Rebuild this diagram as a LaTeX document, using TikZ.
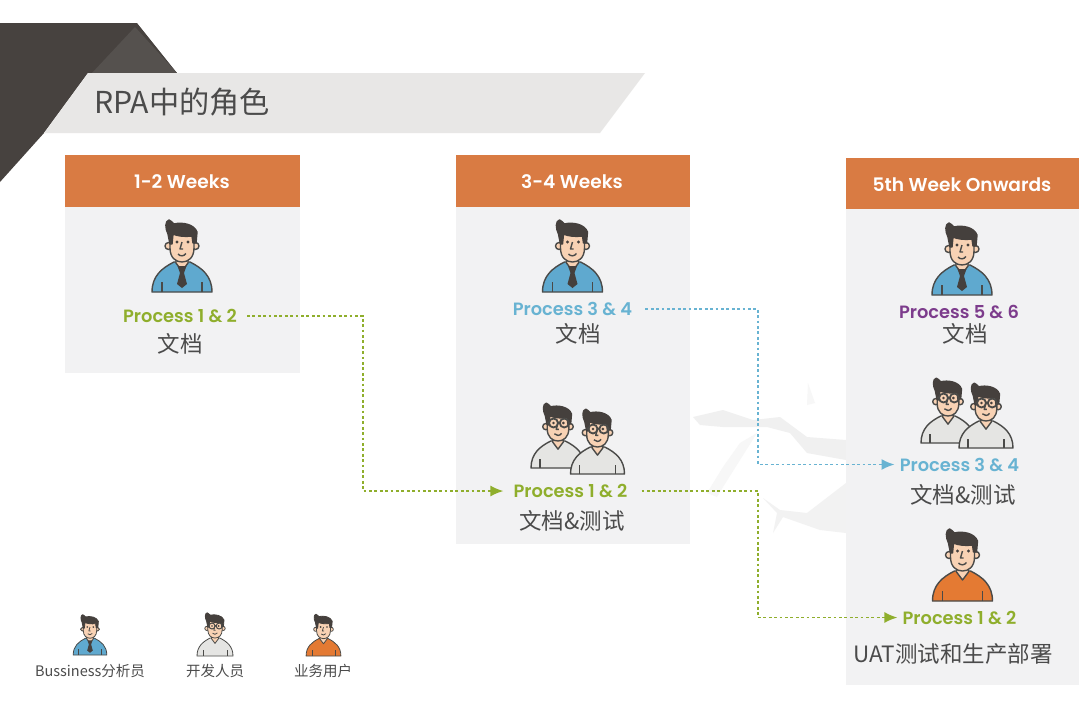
\documentclass[tikz,border=0pt]{standalone}
\usepackage{fontspec}
\setmainfont{Poppins}[BoldFont={Poppins SemiBold}]
\newfontfamily\cjk{Noto Sans CJK SC}
\usetikzlibrary{arrows.meta}
\definecolor{panelbg}{HTML}{F2F2F3}
\definecolor{headbg}{HTML}{D97B43}
\definecolor{titlebg}{HTML}{E8E7E6}
\definecolor{darkA}{HTML}{47423F}
\definecolor{darkB}{HTML}{55514E}
\definecolor{inkc}{HTML}{4A4A48}
\definecolor{skinc}{HTML}{F8D2B4}
\definecolor{hairc}{HTML}{45403D}
\definecolor{shirtblue}{HTML}{5FA9CF}
\definecolor{shirtgrey}{HTML}{E5E5E3}
\definecolor{shirtorange}{HTML}{E47A33}
\definecolor{greenc}{HTML}{8FAE2C}
\definecolor{bluec}{HTML}{68B3D2}
\definecolor{purplec}{HTML}{7D3C8C}
\definecolor{textc}{HTML}{4B4B4B}
\tikzset{
  x=1pt,y=-1pt,
  panelbox/.style={fill=panelbg,draw=none},
  headbox/.style={fill=headbg,draw=none},
  headtext/.style={text=white,font=\fontsize{18.6}{19}\selectfont\bfseries,inner sep=0pt},
  proc/.style={font=\fontsize{17.8}{19}\selectfont\bfseries,inner xsep=10pt,inner ysep=0pt},
  cn/.style={text=textc,font=\cjk\fontsize{22.5}{23}\selectfont,inner sep=0pt},
  legendtext/.style={text=textc,font=\cjk\fontsize{14.5}{15}\selectfont,inner sep=0pt},
  flow/.style={line width=1.8pt,dash pattern=on 2.8pt off 2.6pt,-{Latex[length=13pt,width=11pt,sep=0pt]}},
  pics/person/.style n args={4}{code={
    \tikzset{ol/.style={draw=inkc,line width=#4,line join=round}}
    \path[ol,fill=#1] (-30,0) .. controls (-30,-16) and (-20,-24) .. (-8,-30) -- (8,-30) .. controls (20,-24) and (30,-16) .. (30,0) -- cycle;
    \path[ol] (-20,0) -- (-20,-10) (20,0) -- (20,-10);
    \path[ol,fill=skinc] (-13.5,-46) circle[radius=3.5] (13.5,-46) circle[radius=3.5];
    \path[ol,fill=skinc] (-6,-38) -- (-6,-29) -- (0,-21) -- (6,-29) -- (6,-38) -- cycle;
    \path[ol,fill=skinc] (-12,-60) -- (-12,-44) .. controls (-12,-34) and (-6,-30) .. (0,-30) .. controls (6,-30) and (12,-34) .. (12,-44) -- (12,-60) -- cycle;
    \path[fill=hairc,draw=hairc,line width=#4,line join=round] (-12,-48) -- (-14,-58) .. controls (-17,-64) and (-17,-71) .. (-13,-72) .. controls (-11,-72) and (-10,-69) .. (-8,-68) .. controls (0,-70) and (12,-68) .. (15,-60) -- (14,-49) -- (11,-49) -- (10,-56) .. controls (3,-55) and (-5,-56) .. (-9,-58) -- (-10,-48) -- cycle;
    \fill[hairc] (-5,-50) circle[radius=1.6] (6,-50) circle[radius=1.6];
    \path[ol] (0,-50) -- (-2,-43) -- (1,-43);
    \path[ol] (-4,-38) .. controls (-2,-35.5) and (2,-35.5) .. (4,-38.5);
    \ifnum#2=1
      \path[ol,line width=1.3*#4] (-5,-50) circle[radius=5] (7,-50) circle[radius=5] (0,-50.5) -- (2,-50.5) (-10,-50) -- (-12,-51) (12,-50) -- (13,-51);
    \fi
    \ifnum#3=1
      \fill[hairc] (-4.5,-26) -- (4.5,-26) -- (2,-19) -- (5,-8) -- (0,-4) -- (-5,-8) -- (-2,-19) -- cycle;
    \fi
  }}
}
\begin{document}
\begin{tikzpicture}
\useasboundingbox (0,0) rectangle (1080,713);
\fill[white] (0,0) rectangle (1080,713);
% watermark
\fill[black!3] (808,383) -- (815,403) -- (807,405) -- cycle;
\fill[black!6] (693,417) -- (723,410) -- (753,420) -- (780,417) -- (807,437) -- (846,440) -- (846,460) -- (807,453) -- (790,433) -- (767,427) -- (747,427) -- (723,427) -- (700,425) -- cycle;
\fill[black!3] (757,433) -- (723,487) -- (717,497) -- (707,493) -- (723,467) -- (740,443) -- cycle;
\fill[black!5] (763,498) -- (780,510) -- (807,513) -- (846,483) -- (846,533) -- (820,530) -- (783,517) -- (773,533) -- (777,513) -- cycle;
% banner
\fill[darkA] (0,23) -- (137,23) -- (177,73) -- (88,73) -- (44,133) -- (0,182) -- cycle;
\fill[darkB] (135,27) -- (177,73) -- (92,73) -- cycle;
\fill[titlebg] (88,73) -- (645,73) -- (600,133) -- (44,133) -- cycle;
\node[anchor=west,text=textc,font=\cjk\fontsize{30.2}{31}\selectfont,inner sep=0pt] (title) at (94,102) {RPA中的角色};
% panels
\fill[panelbox] (65,155) rectangle (300,373);
\fill[headbox] (65,155) rectangle (300,207);
\fill[panelbox] (456,155) rectangle (690,544);
\fill[headbox] (456,155) rectangle (690,207);
\fill[panelbox] (846,158) rectangle (1079,685);
\fill[headbox] (846,158) rectangle (1079,209);
\node[headtext] (h1) at (182,181.5) {1-2 Weeks};
\node[headtext] (h2) at (572,181.5) {3-4 Weeks};
\node[headtext] (h3) at (962,184.5) {5th Week Onwards};
% people
\pic at (182,292) {person={shirtblue}{0}{1}{1.4pt}};
\pic at (572.5,292) {person={shirtblue}{0}{1}{1.4pt}};
\pic at (962,295) {person={shirtblue}{0}{1}{1.4pt}};
\pic[scale=.9] at (558,468) {person={shirtgrey}{1}{0}{1.4pt}};
\pic[scale=.9] at (597.5,474) {person={shirtgrey}{1}{0}{1.4pt}};
\pic[scale=.9] at (948,443) {person={shirtgrey}{1}{0}{1.4pt}};
\pic[scale=.9] at (986,448) {person={shirtgrey}{1}{0}{1.4pt}};
\pic at (962.5,601) {person={shirtorange}{0}{0}{1.4pt}};
\pic[scale=.56] at (90,655) {person={shirtblue}{0}{1}{.8pt}};
\pic[scale=.6] at (215,656) {person={shirtgrey}{1}{0}{.8pt}};
\pic[scale=.58] at (323.5,656) {person={shirtorange}{0}{0}{.8pt}};
% labels
\node[proc,text=greenc] (pa) at (180,316) {Process 1 \& 2};
\node[cn] (ta) at (180,344) {文档};
\node[proc,text=bluec] (pb) at (572.5,309) {Process 3 \& 4};
\node[cn] (tb) at (578,334) {文档};
\node[proc,text=greenc] (pc) at (570.5,491) {Process 1 \& 2};
\node[cn] (tc) at (572,521) {文档\&测试};
\node[proc,text=purplec] (pd) at (959,311.5) {Process 5 \& 6};
\node[cn] (td) at (965,334) {文档};
\node[proc,text=bluec] (pe) at (959.5,464.5) {Process 3 \& 4};
\node[cn] (te) at (963,495) {文档\&测试};
\node[proc,text=greenc] (pf) at (959.5,617.5) {Process 1 \& 2};
\node[cn] (tf) at (953,654) {UAT测试和生产部署};
\node[legendtext] (la) at (90,671) {Bussiness分析员};
\node[legendtext] (lb) at (215,671) {开发人员};
\node[legendtext] (lc) at (323,671) {业务用户};
% connectors
\coordinate (c1) at (363,400);
\coordinate (c2) at (758,400);
\coordinate (c3) at (758,550);
\draw[flow,greenc] (pa.east) -| (c1) |- (pc.west);
\draw[flow,bluec,shorten <=3pt,shorten >=-5pt] (pb.east) -| (c2) |- (pe.west);
\draw[flow,greenc,shorten <=4pt,shorten >=-5pt] (pc.east) -| (c3) |- (pf.west);
\end{tikzpicture}
\end{document}
